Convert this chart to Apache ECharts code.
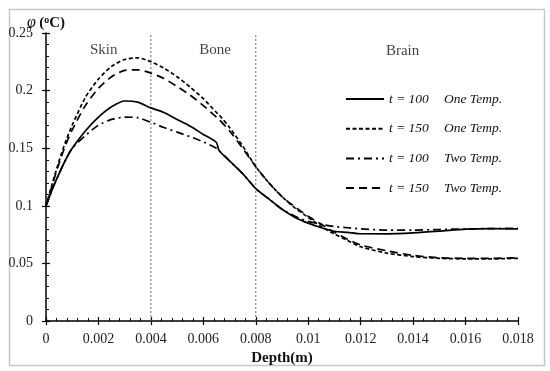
<!DOCTYPE html>
<html>
<head>
<meta charset="utf-8">
<script src="https://cdn.jsdelivr.net/npm/echarts@6/dist/echarts.min.js"></script>
<style>html,body{margin:0;padding:0;background:#fff}#c{width:550px;height:371px}</style>
</head>
<body>
<div id="c"></div>
<script>
// ---- data ----
const depth = [0, 0.00025, 0.0005, 0.00075, 0.001, 0.0015, 0.002, 0.0025, 0.003, 0.0035, 0.004, 0.0045, 0.005, 0.0055, 0.006, 0.0065, 0.0066, 0.007, 0.0075, 0.008, 0.0085, 0.009, 0.0095, 0.01, 0.0105, 0.011, 0.0115, 0.012, 0.013, 0.014, 0.015, 0.016, 0.017, 0.018];
const t100One = [0.1, 0.115, 0.128, 0.140, 0.150, 0.165, 0.177, 0.186, 0.191, 0.190, 0.185, 0.181, 0.175, 0.169, 0.162, 0.155, 0.148, 0.139, 0.128, 0.115, 0.106, 0.097, 0.090, 0.085, 0.081, 0.078, 0.077, 0.0758, 0.0757, 0.0765, 0.078, 0.0798, 0.0803, 0.080];
const t150One = [0.1, 0.120, 0.139, 0.156, 0.170, 0.194, 0.210, 0.221, 0.227, 0.2285, 0.225, 0.2195, 0.212, 0.203, 0.193, 0.181, 0.179, 0.168, 0.152, 0.134, 0.120, 0.108, 0.098, 0.090, 0.082, 0.0755, 0.070, 0.0645, 0.059, 0.056, 0.0545, 0.054, 0.054, 0.0545];
const t100Two = [0.1, 0.115, 0.128, 0.140, 0.150, 0.161, 0.170, 0.175, 0.177, 0.1765, 0.1725, 0.168, 0.164, 0.160, 0.1555, 0.150, 0.148, 0.139, 0.128, 0.115, 0.106, 0.097, 0.091, 0.0865, 0.084, 0.082, 0.081, 0.080, 0.079, 0.079, 0.0795, 0.080, 0.0803, 0.0805];
const t150Two = [0.1, 0.119, 0.137, 0.153, 0.166, 0.187, 0.202, 0.212, 0.2175, 0.218, 0.2152, 0.2105, 0.2035, 0.196, 0.187, 0.177, 0.175, 0.165, 0.150, 0.134, 0.120, 0.108, 0.099, 0.091, 0.084, 0.077, 0.071, 0.066, 0.061, 0.057, 0.055, 0.0545, 0.0545, 0.055];
const legendTime = ['t = 100', 't = 150', 't = 100', 't = 150'];
const legendModel = ['One Temp.', 'One Temp.', 'Two Temp.', 'Two Temp.'];
const layerBounds = [0.004, 0.008];
const yRange = [0, 0.25];
const layerNames = ['Skin', 'Bone', 'Brain'];
const layerLabelX = [0.0022, 0.00645, 0.0136];
const layerLabelY = [0.235, 0.235, 0.234];

// ---- chart ----
const font = 'Liberation Serif';
const seriesValues = [t100One, t150One, t100Two, t150Two];
const dashes = ['solid', [4, 2.5], [8, 4, 2, 4], [8, 5]];
const names = legendTime.map((t, i) => t + '|' + legendModel[i]);

const lineSeries = seriesValues.map((vals, i) => ({
  type: 'line',
  name: names[i],
  data: depth.map((x, j) => [x, vals[j]]),
  symbol: 'none',
  smooth: 0.25,
  lineStyle: { color: '#000', width: 1.7, type: dashes[i] },
  itemStyle: { color: '#000' },
  z: 3
}));

const boundarySeries = layerBounds.map((b, i) => ({
  type: 'line',
  name: 'boundary' + i,
  data: yRange.map(y => [b, y]),
  symbol: 'none',
  silent: true,
  lineStyle: { color: '#666', width: 1, type: [2, 2] },
  z: 1
}));

const labelSeries = {
  type: 'scatter',
  name: 'layers',
  symbolSize: 0,
  silent: true,
  data: layerNames.map((n, i) => ({ name: n, value: [layerLabelX[i], layerLabelY[i]] })),
  label: { show: true, position: 'inside', formatter: p => p.name, color: '#111', fontFamily: font, fontSize: 15 }
};

const axisLabelStyle = { color: '#222', fontFamily: font, fontSize: 14 };

const option = {
  animation: false,
  backgroundColor: '#fff',
  grid: { left: 46, right: 32, top: 33, bottom: 47 },
  graphic: [{
    type: 'rect', left: 7, top: 7, shape: { width: 535, height: 356 },
    style: { fill: 'none', stroke: '#c8c8c8', lineWidth: 1.5 }, z: -1
  }],
  legend: {
    data: names,
    orient: 'vertical',
    left: 345,
    top: 92,
    padding: 0,
    itemWidth: 38,
    itemHeight: 14,
    itemGap: 15.7,
    itemStyle: { color: 'rgba(0,0,0,0)', borderWidth: 0, opacity: 0 },
    formatter: n => { const p = n.split('|'); return '{a|' + p[0] + '}{b|' + p[1] + '}'; },
    textStyle: {
      rich: {
        a: { fontFamily: font, fontStyle: 'italic', fontSize: 13.5, color: '#111', width: 55 },
        b: { fontFamily: font, fontStyle: 'italic', fontSize: 13.5, color: '#111' }
      }
    }
  },
  xAxis: [{
    type: 'value', min: 0, max: 0.018, interval: 0.002,
    name: 'Depth(m)', nameLocation: 'middle', nameGap: 21,
    nameTextStyle: { fontFamily: font, fontWeight: 'bold', fontSize: 15, color: '#111' },
    axisLine: { show: true, lineStyle: { color: '#000', width: 1.5 } },
    axisTick: { show: true, inside: true, length: 4, lineStyle: { color: '#000', width: 1.2 } },
    minorTick: { show: true, splitNumber: 5, length: 3, lineStyle: { color: '#000', width: 1 } },
    axisLabel: Object.assign({ margin: 11 }, axisLabelStyle),
    splitLine: { show: false }
  }, {
    type: 'value', min: 0, max: 0.018, interval: 0.002, position: 'bottom',
    axisLine: { show: false },
    axisTick: { show: true, inside: false, length: 4, lineStyle: { color: '#000', width: 1.2 } },
    axisLabel: { show: false },
    splitLine: { show: false }
  }],
  yAxis: [{
    type: 'value', min: 0, max: 0.25, interval: 0.05,
    name: '{i|φ} {b|(}{s|o}{b|C)}', nameLocation: 'end', nameGap: 10,
    nameMoveOverlap: false,
    nameTextStyle: {
      align: 'center',
      verticalAlign: 'middle',
      rich: {
        i: { fontFamily: font, fontStyle: 'italic', fontSize: 16, color: '#111' },
        b: { fontFamily: font, fontWeight: 'bold', fontSize: 15, color: '#111' },
        s: { fontFamily: font, fontWeight: 'bold', fontSize: 10, color: '#111', verticalAlign: 'top' }
      }
    },
    axisLine: { show: true, lineStyle: { color: '#000', width: 1.5 } },
    axisTick: { show: true, inside: true, length: 4, lineStyle: { color: '#000', width: 1.2 } },
    minorTick: { show: true, splitNumber: 5, length: 3, lineStyle: { color: '#000', width: 1 } },
    axisLabel: Object.assign({ margin: 13 }, axisLabelStyle),
    splitLine: { show: false }
  }, {
    type: 'value', min: 0, max: 0.25, interval: 0.05, position: 'left',
    axisLine: { show: false },
    axisTick: { show: true, inside: false, length: 4, lineStyle: { color: '#000', width: 1.2 } },
    axisLabel: { show: false },
    splitLine: { show: false }
  }],
  series: boundarySeries.concat(lineSeries, [labelSeries])
};

const chart = echarts.init(document.getElementById('c'), null, { renderer: 'canvas' });
chart.setOption(option);
</script>
</body>
</html>
